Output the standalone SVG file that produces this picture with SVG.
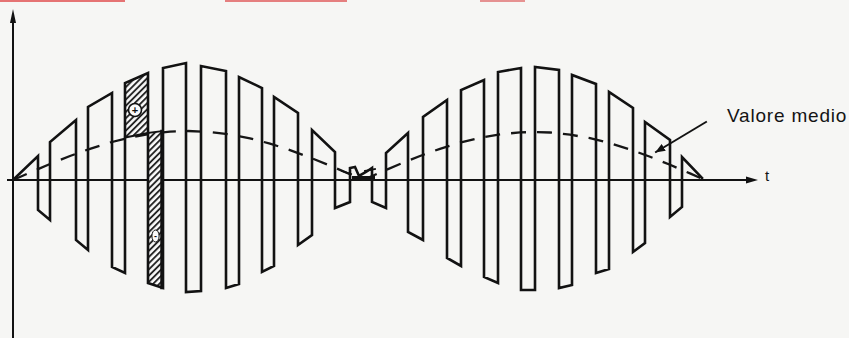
<svg xmlns="http://www.w3.org/2000/svg" width="849" height="338" viewBox="0 0 849 338">
  <style>
    .ink { fill: none; stroke: #121212; stroke-linejoin: miter; stroke-linecap: square; }
    .sig { stroke-width: 2.6; }
    .axis { stroke-width: 2; }
    .mean { fill: none; stroke: #161616; stroke-width: 2.3; stroke-dasharray: 15 11; }
    .lbl { font-family: "Liberation Sans", Arial, sans-serif; fill: #141414; }
    .sign { font-family: "Liberation Sans", Arial, sans-serif; fill: #111; font-weight: bold; text-anchor: middle; }
  </style>
  <defs>
    <pattern id="hatch" patternUnits="userSpaceOnUse" width="4.4" height="4.4" patternTransform="rotate(45)">
      <rect width="4.4" height="4.4" fill="#fbfbfb"/>
      <line x1="1" y1="0" x2="1" y2="4.4" stroke="#1a1a1a" stroke-width="1.8"/>
    </pattern>
    <marker id="arrowHead" markerWidth="10" markerHeight="8" refX="9" refY="4" orient="auto" markerUnits="userSpaceOnUse">
      <path d="M0,0 L10,4 L0,8 Z" fill="#121212"/>
    </marker>
  </defs>

  <rect width="849" height="338" fill="#f6f6f4"/>
  <g id="scan-edge" opacity="0.75">
    <rect x="0" y="0" width="125" height="2" fill="#e04848"/>
    <rect x="225" y="0" width="122" height="2" fill="#e05858"/>
    <rect x="480" y="0" width="45" height="2" fill="#e07070"/>
  </g>

  <g id="axes">
    <line class="ink axis" x1="13" y1="338" x2="13" y2="20"/>
    <path d="M13,9 L16,23 L10,23 Z" fill="#121212"/>
    <line class="ink axis" x1="8" y1="180" x2="748" y2="180"/>
    <path d="M758,180 L746,176.5 L746,183.5 Z" fill="#121212"/>
  </g>

  <g id="mean-value">
    <polyline class="mean" points="13,180 30,172.5 50,164 70,156 90,148.8 110,142.5 130,137.5 150,133.8 170,131.6 188,131 210,132 230,134.5 250,138.4 270,143.6 290,150.1 310,157.5 330,165.6 350,174.3 363,180"/>
    <polyline class="mean" points="363,180 380,172.5 400,164 420,156 440,148.8 460,142.7 480,137.8 500,134.3 520,132.4 534,132 550,132.5 570,134.6 590,138.2 610,143.2 630,149.5 650,156.7 670,164.8 690,173.4 705,180"/>
  </g>

  <g id="hatched-areas">
    <polygon points="125,83 148,73 148,133 125,137.5" fill="url(#hatch)"/>
    <polygon points="148,133 163,131 163,288 148,283" fill="url(#hatch)"/>
    <line class="ink" stroke-width="2" x1="125" y1="137.5" x2="148" y2="133"/>
    <line class="ink" stroke-width="2" x1="148" y1="133" x2="163" y2="131"/>
    <line class="ink" stroke-width="2.5" x1="161.5" y1="131" x2="161.5" y2="288"/>
    <circle cx="135" cy="110" r="6.5" fill="#fbfbfb" stroke="#121212" stroke-width="1.6"/>
    <text class="sign" x="135" y="114" font-size="11">+</text>
    <ellipse cx="155.5" cy="236" rx="3.6" ry="6" fill="#fbfbfb" stroke="#121212" stroke-width="1"/>
    <text class="sign" x="155.5" y="239" font-size="9">-</text>
  </g>

  <g id="signal">
    <path class="ink sig" d="M13,180 L38,156 L38,210 L50,220 L50,142 L76,120 L76,240 L88,250 L88,107 L112,93 L112,267 L125,273 L125,83 L148,73 L148,283 L163,288 L163,68 L186,63 L186,292 L201,291 L201,66 L226,71 L226,288 L239,284 L239,77 L262,88 L262,272 L274,266 L274,97 L298,113 L298,245 L312,235 L312,130 L335,152 L335,208 L350,202 L350,168 L355,167 L359,176 L366,172 L372,168 L372,202 L386,208 L386,153 L408,133 L408,232 L423,240 L423,117 L447,100 L447,258 L461,266 L461,90 L484,80 L484,277 L498,283 L498,72 L521,68 L521,290 L535,290 L535,67 L559,70 L559,288 L572,285 L572,75 L596,84 L596,273 L609,269 L609,92 L633,108 L633,252 L645,243 L645,122 L670,140 L670,217 L682,207 L682,157 L702,178"/>
    <line class="ink" stroke-width="4" x1="354" y1="178" x2="373" y2="178"/>
    <line class="ink" stroke-width="1.8" x1="342" y1="171" x2="351" y2="174"/>
    <line class="ink" stroke-width="1.8" x1="365" y1="171" x2="375" y2="169"/>
  </g>

  <g id="connectors">
    <line class="ink" stroke-width="2" x1="706" y1="122" x2="656" y2="152" marker-end="url(#arrowHead)"/>
  </g>

  <g id="label-valore-medio">
    <text class="lbl" x="727" y="122" font-size="19" letter-spacing="0.8">Valore medio</text>
  </g>
  <g id="label-t">
    <text class="lbl" x="765" y="181" font-size="15">t</text>
  </g>
</svg>
